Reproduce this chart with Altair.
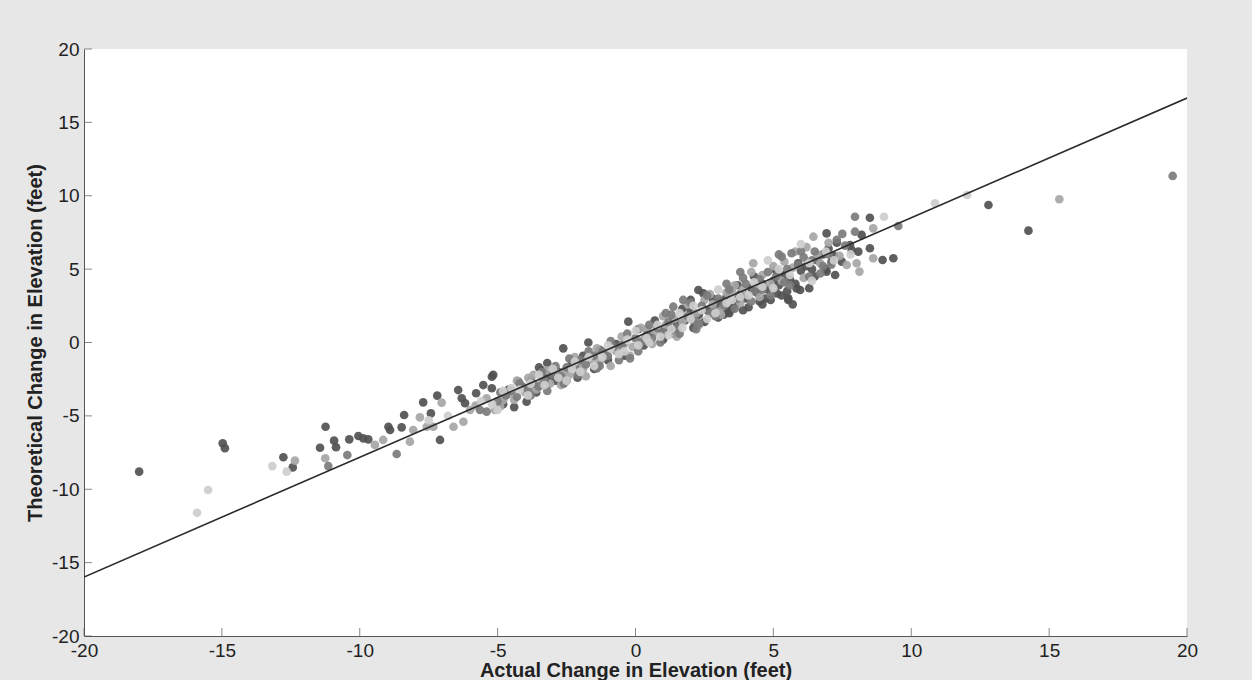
import altair as alt
import pandas as pd

# ---- data ----
dark_x = [-18.0, -14.97, -14.89, -12.77, -12.43, -11.24, -11.44, -10.93, -10.86, -10.38, -10.05, -9.87, -9.69,
          -8.96, -8.9, -8.48, -8.39, -7.7, -7.42, -7.19, -7.09, -6.43, -6.3, -6.18, -5.78, -5.52, -5.21, -5.16,
          -5.21, -4.25, -3.95, -3.5, -3.4, -3.3, -3.2, -3.1, -3.0, -2.9, -2.8, -2.62, -1.71, -0.26, 2.28, 2.46,
          3.37, 5.12, 5.54, 5.54, 5.84, 5.97, 6.93, 7.48, 7.11, 6.93, 7.24, 7.78, 7.84, 8.08, 8.2, 8.5, 8.5,
          8.96, 9.35, 12.8, 14.25,
          0.5, 0.9, 1.2, 1.5, 1.8, 2.0, 2.3, 2.6, 2.9, 3.1, 3.3, 3.6, 3.8, 4.0, 4.2, 4.4, 4.6, 4.8, 5.0, 5.2,
          5.4, 5.6, 5.8, 6.0, 6.2, 6.4, 6.6, 6.8, 7.0, 7.3, 4.6, 4.9, 5.3, 3.9, 3.5,
          -4.8, -4.6, -4.4, -3.8, -3.6, -2.5, -2.3, -2.1, -1.9, -1.5, -1.3, -1.0, -0.7, -0.4, 0.1, 0.3, 0.7,
          1.0, 1.4, 1.7, 2.1, 2.5, 2.8, 3.2, 3.4, 3.7, 4.1, 4.3, 4.7, 5.1, 5.5, 5.9, 6.3, 6.5, 6.9, 7.2, 3.0,
          2.0, 4.5, 5.7]
dark_y = [-8.8, -6.87, -7.2, -7.82, -8.51, -5.74, -7.17, -6.69, -7.14, -6.6, -6.37, -6.53, -6.6,
          -5.74, -5.96, -5.78, -4.94, -4.08, -4.83, -3.62, -6.64, -3.24, -3.8, -4.14, -3.46, -2.9, -2.33, -2.21,
          -3.12, -2.67, -4.03, -1.7, -1.9, -2.1, -1.4, -2.3, -1.8, -2.6, -2.0, -0.4, 0.0, 1.42, 3.58, 3.35,
          2.1, 3.35, 2.9, 3.01, 3.69, 3.58, 7.44, 5.51, 5.51, 4.83, 4.6, 6.64, 6.3, 6.19, 7.33, 8.5, 6.42,
          5.62, 5.74, 9.37, 7.62,
          0.6, 0.8, 1.0, 1.3, 1.5, 2.2, 1.9, 2.2, 2.4, 2.8, 3.1, 2.6, 3.3, 3.0, 3.7, 3.4, 4.0, 3.6, 4.2, 3.9,
          4.6, 4.3, 4.0, 4.9, 5.2, 5.0, 5.6, 6.0, 6.4, 6.8, 2.6, 2.9, 3.2, 2.2, 2.3,
          -4.2, -3.2, -4.4, -2.6, -3.4, -2.6, -1.4, -2.4, -0.9, -1.8, -0.5, -1.2, -0.1, -0.9, 0.9, -0.2, 1.5,
          0.2, 0.6, 2.3, 1.0, 1.4, 3.0, 1.9, 2.0, 3.9, 2.4, 4.5, 3.0, 4.9, 3.5, 5.4, 3.7, 4.5, 5.0, 5.9, 1.7,
          2.9, 2.8, 2.6]

mid_x = [-11.14, -10.45, -8.66, -5.64, -5.4, -5.0, -4.7, -4.5, -4.3, -4.1, -3.9, -3.7, -3.5, -3.3, -3.0,
         -2.7, -2.5, -2.2, -2.0, -1.8, -1.5, -1.4, -1.2, -1.0, -0.8, -0.5, -0.2, 0.0, 0.2, 0.4, 0.6, 0.8,
         1.0, 1.2, 1.37, 1.5, 1.73, 1.9, 2.1, 2.4, 2.7, 3.0, 3.2, 3.4, 3.7, 4.0, 4.3, 4.5, 4.8, 5.1, 5.3,
         5.5, 5.66, 5.9, 6.1, 6.3, 6.5, 6.8, 7.0, 7.3, 7.6, 7.96, 7.96, 9.53, 19.48,
         -4.9, -4.2, -3.8, -3.4, -3.2, -2.9, -2.6, -2.4, -2.1, -1.7, -1.3, -0.9, -0.6, -0.3, 0.1, 0.5, 0.9,
         1.3, 1.6, 2.0, 2.3, 2.6, 2.9, 3.3, 3.6, 3.9, 4.2, 4.6, 4.9, 5.2, 5.6, 6.0, 6.4, 6.7, 7.1, 7.5, 1.1,
         2.2, 3.8, 5.4]
mid_y = [-8.42, -7.67, -7.6, -4.6, -4.71, -4.0, -3.6, -3.3, -3.7, -3.0, -3.2, -2.8, -3.0, -2.6, -2.2,
         -2.3, -1.7, -1.6, -1.2, -1.5, -0.9, -1.76, -0.6, -0.9, -0.3, -0.2, -1.08, 0.3, 0.0, 0.5, 0.3, 1.0,
         0.7, 1.4, 2.44, 1.0, 2.9, 1.8, 1.5, 2.5, 2.0, 3.0, 2.5, 3.6, 3.0, 4.0, 3.5, 4.3, 4.8, 4.5, 5.85,
         5.0, 6.08, 5.3, 5.8, 4.5, 6.2, 5.2, 6.0, 7.0, 6.6, 8.57, 7.55, 7.94, 11.35,
         -3.4, -2.8, -3.6, -2.0, -3.3, -1.6, -2.8, -1.1, -2.2, -0.6, -1.6, 0.1, -1.2, 0.6, -0.6, 1.2, 0.0,
         1.9, 0.6, 2.7, 1.3, 3.2, 1.8, 4.0, 2.3, 4.4, 2.8, 3.6, 3.2, 6.0, 3.9, 6.2, 5.6, 4.7, 5.3, 7.4, 2.0,
         0.9, 4.8, 4.1]

light_x = [-12.35, -11.25, -9.45, -9.15, -8.18, -8.06, -7.82, -7.57, -7.33, -7.03, -6.6, -6.24, -6.0, -5.8,
           -4.91, -4.79, -4.6, -4.4, -4.0, -3.89, -3.6, -3.4, -3.1, -2.9, -2.6, -2.4, -2.1, -1.9, -1.6, -1.3,
           -1.1, -0.7, -0.4, -0.1, 0.3, 0.7, 1.1, 1.4, 1.7, 2.2, 2.5, 2.8, 3.3, 3.6, 3.9, 4.27, 4.6, 5.0,
           5.4, 5.8, 6.2, 6.45, 6.7, 7.4, 7.66, 8.02, 8.12, 8.62, 8.62, 15.37,
           -5.4, -5.1, -4.3, -3.7, -3.2, -2.7, -2.2, -1.8, -1.4, -0.9, -0.5, -0.2, 0.2, 0.6, 1.0, 1.5, 1.9,
           2.3, 2.7, 3.1, 3.5, 3.8, 4.2, 4.5, 4.9, 5.3, 5.7, 6.1, 6.6, 7.0, 0.4, 1.8, 3.0, 4.4]
light_y = [-8.05, -7.89, -6.98, -6.64, -6.76, -5.96, -5.1, -5.74, -5.74, -4.1, -5.74, -5.4, -4.6, -4.3,
           -4.37, -3.92, -3.5, -3.9, -3.4, -2.4, -3.2, -2.6, -2.8, -2.0, -2.0, -2.2, -1.5, -1.8, -1.2, -1.3,
           -0.7, -0.6, -0.1, -0.3, 0.2, 0.7, 1.2, 1.6, 1.4, 2.0, 2.9, 2.6, 3.4, 3.9, 3.6, 5.4, 4.6, 5.2,
           5.5, 6.2, 6.5, 7.21, 5.4, 5.9, 5.28, 5.4, 4.83, 5.74, 7.78, 9.76,
           -3.8, -4.6, -2.6, -2.2, -1.9, -2.9, -1.0, -2.3, -0.4, -1.6, 0.4, -0.9, 1.0, -0.1, 1.8, 0.4, 2.6,
           1.2, 3.3, 1.9, 3.5, 2.7, 4.8, 3.1, 4.0, 4.2, 5.1, 4.4, 6.0, 6.8, 0.9, 1.7, 2.1, 4.0]

pale_x = [-15.9, -15.5, -13.17, -12.65, -7.5, -6.8, -5.6, -5.2, -4.8, -4.2, -3.8, -3.3, -2.8, -2.3, -2.0,
          -1.7, -1.2, -0.9, -0.6, -0.3, 0.1, 0.5, 0.9, 1.3, 1.6, 2.0, 2.6, 3.0, 3.5, 4.1, 4.8, 5.2, 6.0,
          6.4, 7.2, 9.01, 10.86, 12.03,
          -5.0, -4.5, -3.9, -3.5, -3.0, -2.5, -2.2, -1.5, -1.0, -0.4, 0.0, 0.4, 0.8, 1.2, 1.7, 2.1, 2.4,
          2.9, 3.3, 3.8, 4.3, 4.6, 5.0, 5.6, 6.3, 6.9, 7.8]
pale_y = [-11.6, -10.05, -8.42, -8.8, -5.3, -5.0, -4.0, -4.2, -3.3, -3.2, -2.8, -2.9, -2.4, -1.8, -2.0,
          -1.0, -1.0, -0.4, -0.8, 0.2, -0.2, 0.0, 0.4, 0.9, 2.0, 1.6, 1.6, 3.6, 2.9, 3.2, 5.6, 5.0, 6.7,
          4.2, 5.6, 8.57, 9.49, 10.05,
          -4.6, -3.1, -3.6, -2.2, -1.8, -2.6, -1.3, -1.6, -0.2, -0.6, 0.8, 0.3, 1.2, 0.5, 1.0, 2.5, 2.2,
          2.0, 2.7, 3.1, 4.1, 3.8, 3.7, 4.6, 5.4, 6.2, 6.0]

fit_x = [-20, 20]
fit_y = [-15.98, 16.66]

x_ticks = [-20, -15, -10, -5, 0, 5, 10, 15, 20]
y_ticks = [-20, -15, -10, -5, 0, 5, 10, 15, 20]

# ---- tables ----
groups = [("pale", pale_x, pale_y), ("light", light_x, light_y),
          ("mid", mid_x, mid_y), ("dark", dark_x, dark_y)]
rows = []
for g, xs_, ys_ in groups:
    for a, b in zip(xs_, ys_):
        rows.append({"x": a, "y": b, "g": g})
pts = pd.DataFrame(rows)
fit = pd.DataFrame({"x": fit_x, "y": fit_y})
xt = pd.DataFrame({"v": x_ticks})
yt = pd.DataFrame({"v": y_ticks})

W, H = 1103, 587
xs = alt.Scale(domain=[-20, 20], nice=False, zero=False)
ys = alt.Scale(domain=[-20, 20], nice=False, zero=False)

lbl = "datum.value < 0 ? '-' + abs(datum.value) : '' + datum.value"
common = dict(tickSize=0, labelPadding=5, grid=False, domainColor="#555555", labelFontSize=19,
              labelColor="#222222", titleFontSize=20, titleFontWeight="bold", titleColor="#222222",
              labelFont="Liberation Sans", titleFont="Liberation Sans", labelFlush=False, labelExpr=lbl)
xaxis = alt.Axis(values=x_ticks, title="Actual Change in Elevation (feet)", titlePadding=0, **common)
yaxis = alt.Axis(values=y_ticks, title="Theoretical Change in Elevation (feet)", titlePadding=6, **common)

points = alt.Chart(pts).mark_circle(size=75, opacity=0.92).encode(
    x=alt.X("x:Q", scale=xs, axis=xaxis),
    y=alt.Y("y:Q", scale=ys, axis=yaxis),
    color=alt.Color("g:N", scale=alt.Scale(domain=["pale", "light", "mid", "dark"],
                                           range=["#cdcdcd", "#a6a6a6", "#7b7b7b", "#515151"]),
                    legend=None),
    order=alt.Order("g:N"),
)

line = alt.Chart(fit).mark_line(color="#2b2b2b", strokeWidth=1.6, clip=True).encode(
    x=alt.X("x:Q", scale=xs), y=alt.Y("y:Q", scale=ys))

xticks = alt.Chart(xt).mark_tick(orient="vertical", size=8, thickness=1, color="#555555").encode(
    x=alt.X("v:Q", scale=xs), y=alt.value(H - 4))
yticks = alt.Chart(yt).mark_tick(orient="horizontal", size=8, thickness=1, color="#555555").encode(
    y=alt.Y("v:Q", scale=ys), x=alt.value(4))

chart = alt.layer(points, line, xticks, yticks).properties(
    width=W, height=H, background="#e7e7e7",
    padding={"left": 25, "top": 40, "right": 54, "bottom": 0},
).configure_view(fill="white", stroke=None)

chart.save("out.html", embed_options={"renderer": "svg", "actions": False})
